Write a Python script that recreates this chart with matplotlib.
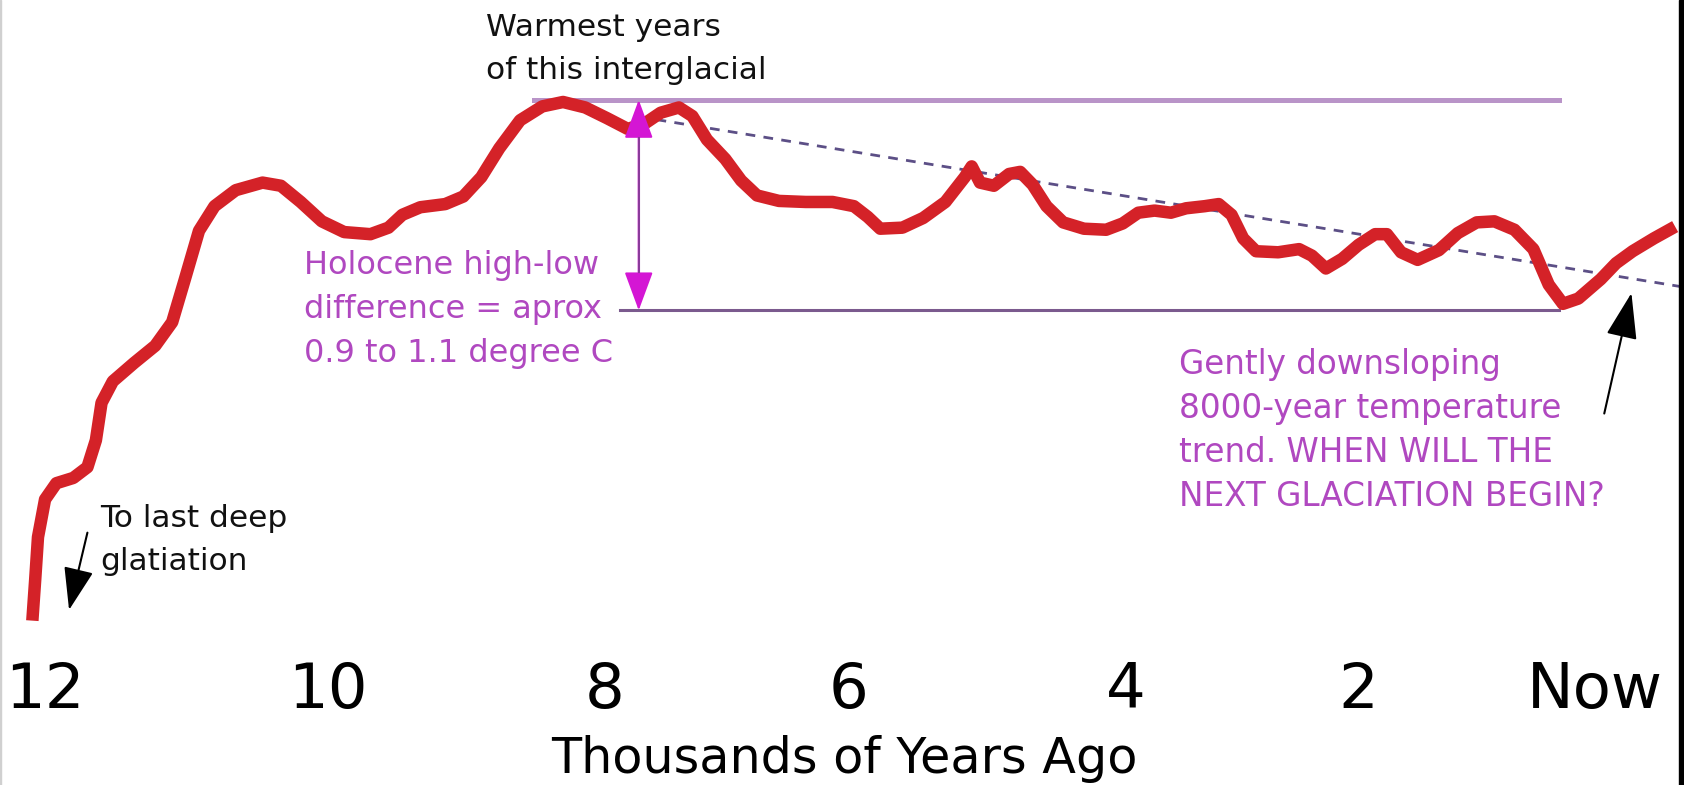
import numpy as np
import matplotlib.pyplot as plt
from matplotlib.patches import Rectangle

# Holocene temperature sketch: thousands of years ago vs. temperature (deg C, relative)
kyr = [12.09, 12.07, 12.05, 12.00, 11.92, 11.80, 11.70, 11.64, 11.60, 11.52,
       11.37, 11.22, 11.10, 11.01, 10.91, 10.80, 10.65, 10.46, 10.33, 10.19,
       10.04, 9.88, 9.69, 9.56, 9.46, 9.33, 9.15, 9.02, 8.89, 8.76,
       8.61, 8.45, 8.30, 8.14, 7.98, 7.81, 7.67, 7.54, 7.39, 7.28,
       7.16, 7.01, 6.88, 6.75, 6.57, 6.35, 6.13, 5.96, 5.86, 5.77,
       5.61, 5.46, 5.30, 5.16, 5.11, 5.05, 4.95, 4.84, 4.76, 4.67,
       4.57, 4.45, 4.30, 4.14, 4.02, 3.89, 3.75, 3.61, 3.48, 3.32,
       3.20, 3.09, 2.99, 2.88, 2.69, 2.51, 2.40, 2.28, 2.14, 2.00,
       1.86, 1.76, 1.64, 1.50, 1.32, 1.16, 1.00, 0.85, 0.68, 0.52,
       0.39, 0.27, 0.14, -0.05, -0.18, -0.32, -0.50, -0.68]
temp = [-1.974, -1.781, -1.577, -1.398, -1.321, -1.296, -1.245, -1.117, -0.939, -0.837,
        -0.750, -0.668, -0.556, -0.352, -0.122, -0.005, 0.071, 0.107, 0.092, 0.015,
        -0.077, -0.128, -0.138, -0.107, -0.046, -0.010, 0.005, 0.041, 0.133, 0.270,
        0.403, 0.469, 0.490, 0.464, 0.413, 0.362, 0.388, 0.439, 0.464, 0.423,
        0.311, 0.219, 0.117, 0.046, 0.020, 0.015, 0.015, -0.005, -0.056, -0.112,
        -0.107, -0.061, 0.015, 0.133, 0.184, 0.107, 0.092, 0.148, 0.158, 0.097,
        -0.005, -0.082, -0.112, -0.117, -0.087, -0.036, -0.026, -0.036, -0.015, -0.005,
        0.005, -0.046, -0.158, -0.219, -0.224, -0.209, -0.240, -0.301, -0.255, -0.189,
        -0.138, -0.138, -0.224, -0.260, -0.214, -0.133, -0.082, -0.077, -0.117, -0.209,
        -0.378, -0.469, -0.444, -0.352, -0.276, -0.219, -0.158, -0.102]

tick_kyr = [12, 10, 8, 6, 4, 2, 0]
tick_labels = ['12', '10', '8', '6', '4', '2', 'Now']

# warmest / coldest Holocene levels and where they are marked
high_level = 0.5
low_level = -0.5
high_span = [8.51, 0.30]
low_span = [7.87, 0.30]
diff_kyr = 7.72

# 8000-year trend
trend_kyr = [7.72, -0.76]
trend_temp = [0.42, -0.39]

red = '#d42228'
magenta_txt = '#b048c0'

# the hand-drawn time axis is not evenly spaced: where each tick sits (fraction of width)
axis_pos = np.array([42, 305, 563, 790, 1048, 1265, 1485]) / 1568.0
axis_kyr = np.array(tick_kyr, dtype=float)
s0 = (axis_pos[1] - axis_pos[0]) / (axis_kyr[1] - axis_kyr[0])
s1 = (axis_pos[-1] - axis_pos[-2]) / (axis_kyr[-1] - axis_kyr[-2])


def fwd(k):
    k = np.asarray(k, dtype=float)
    p = np.interp(-k, -axis_kyr, axis_pos)
    p = np.where(k > axis_kyr[0], axis_pos[0] + (k - axis_kyr[0]) * s0, p)
    p = np.where(k < axis_kyr[-1], axis_pos[-1] + (k - axis_kyr[-1]) * s1, p)
    return -p


def inv(q):
    p = -np.asarray(q, dtype=float)
    k = np.interp(p, axis_pos, axis_kyr)
    k = np.where(p < axis_pos[0], axis_kyr[0] + (p - axis_pos[0]) / s0, k)
    k = np.where(p > axis_pos[-1], axis_kyr[-1] + (p - axis_pos[-1]) / s1, k)
    return k


fig = plt.figure(figsize=(16.84, 7.85), dpi=100)
ax = fig.add_axes([0, 0.1847, 1, 0.8153])
ax.set_xscale('function', functions=(fwd, inv))

ax.plot(high_span, [high_level, high_level], color='#b994c8', lw=3.6, zorder=1)
ax.plot(low_span, [low_level, low_level], color='#7b5a8e', lw=2.2, zorder=1)
ax.plot(trend_kyr, trend_temp, color='#5c4f86', lw=2,
        linestyle=(0, (3.5, 3)), zorder=2)
ax.plot(kyr, temp, color=red, lw=9, solid_joinstyle='round',
        solid_capstyle='butt', zorder=3)

# high-low difference arrow
ax.annotate('', xy=(diff_kyr, high_level), xytext=(diff_kyr, low_level),
            arrowprops=dict(arrowstyle='<|-|>,head_length=1.22,head_width=0.45',
                            mutation_scale=20, color='#d416d4', lw=1.5,
                            shrinkA=0, shrinkB=0), zorder=4)
ax.plot([diff_kyr, diff_kyr], [0.32, -0.32], color='#8a3a9a', lw=1.5, zorder=5)

# black pointers
ax.annotate('', xy=(11.83, -1.923), xytext=(11.70, -1.556),
            arrowprops=dict(arrowstyle='-|>,head_length=1.33,head_width=0.47',
                            mutation_scale=20, color='black', lw=1.5,
                            shrinkA=0, shrinkB=0))
ax.annotate('', xy=(-0.31, -0.418), xytext=(-0.08, -0.990),
            arrowprops=dict(arrowstyle='-|>,head_length=1.44,head_width=0.49',
                            mutation_scale=20, color='black', lw=1.5,
                            shrinkA=0, shrinkB=0))

# va='baseline' pins the last line
ax.text(8.853, 0.599, 'Warmest years\nof this interglacial', fontsize=22.5,
        color='#111111', va='baseline', linespacing=1.6)
ax.text(10.167, -0.745, 'Holocene high-low\ndifference = aprox\n0.9 to 1.1 degree C',
        fontsize=23, color=magenta_txt, va='baseline', linespacing=1.55)
ax.text(11.612, -1.735, 'To last deep\nglatiation', fontsize=22.5,
        color='#111111', va='baseline', linespacing=1.62)
ax.text(3.539, -1.429, 'Gently downsloping\n8000-year temperature\ntrend. WHEN WILL THE\nNEXT GLACIATION BEGIN?',
        fontsize=23.5, color=magenta_txt, va='baseline', linespacing=1.42)

ax.set_xlim(12.319, -0.755)
ax.set_ylim(-2.066, 0.9745)
ax.set_xticks(tick_kyr)
ax.set_xticklabels(tick_labels)
ax.xaxis.set_minor_locator(plt.NullLocator())
ax.set_yticks([])
ax.tick_params(axis='x', length=0, pad=14.8, labelsize=45)
for sp in ax.spines.values():
    sp.set_visible(False)
ax.patch.set_alpha(0)

fig.text(0.5013, 0.0153, 'Thousands of Years Ago', fontsize=35.5,
         ha='center', va='baseline')

# picture frame edges
fig.add_artist(Rectangle((0.997, 0), 0.003, 1, transform=fig.transFigure,
                         color='black'))
fig.add_artist(Rectangle((0, 0), 0.0008, 1, transform=fig.transFigure,
                         color='#d0d0d0'))

fig.savefig('out.png', dpi=100)
